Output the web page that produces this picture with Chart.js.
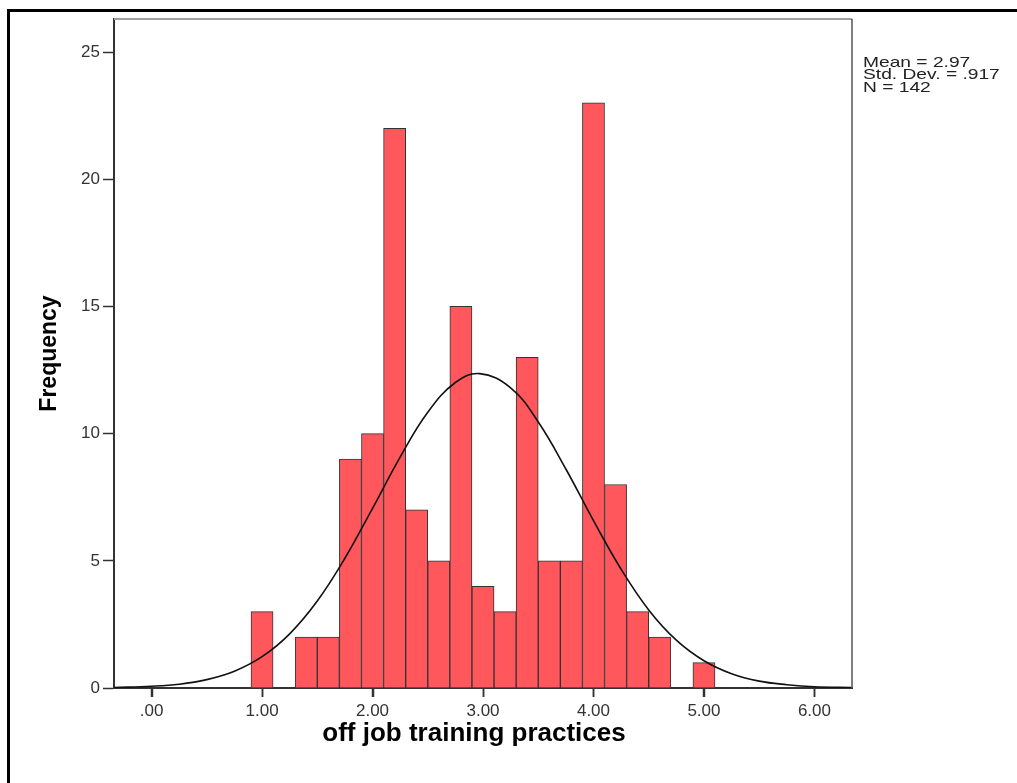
<!DOCTYPE html>
<html>
<head>
<meta charset="utf-8">
<script src="https://cdn.jsdelivr.net/npm/chart.js@4.4.0/dist/chart.umd.min.js"></script>
<style>
  body { margin: 0; background: #fff; }
  #wrap { position: relative; width: 1017px; height: 783px; }
  #frame { position: absolute; left: 7px; top: 9px; right: 0; bottom: 0;
           border-left: 3px solid #000; border-top: 3px solid #000; pointer-events: none; }
  canvas { position: absolute; left: 0; top: 0; }
</style>
</head>
<body>
<div id="wrap">
  <canvas id="hist" width="1017" height="783"></canvas>
  <div id="frame"></div>
</div>
<script>
// histogram bins (centres) and counts
const binCenters = [1.0, 1.2, 1.4, 1.6, 1.8, 2.0, 2.2, 2.4, 2.6, 2.8, 3.0, 3.2, 3.4, 3.6, 3.8, 4.0, 4.2, 4.4, 4.6, 4.8, 5.0];
const counts     = [3,   0,   2,   2,   9,   10,  22,  7,   5,   15,  4,   3,   13,  5,   5,   23,  8,   3,   2,   0,   1];

// normal curve
const curveX = [-0.34, 0.0, 0.25, 0.5, 0.75, 1.0, 1.25, 1.5, 1.75, 2.0, 2.25, 2.5, 2.75, 2.97, 3.25, 3.5, 3.75, 4.0, 4.25, 4.5, 4.75, 5.0, 5.25, 5.5, 5.75, 6.0, 6.34];
const curveY = [0.02, 0.07, 0.15, 0.33, 0.66, 1.23, 2.13, 3.42, 5.1, 7.06, 9.08, 10.84, 12.01, 12.36, 11.8, 10.46, 8.61, 6.58, 4.67, 3.07, 1.88, 1.07, 0.56, 0.27, 0.13, 0.05, 0.02];

const xTicks = [0, 1, 2, 3, 4, 5, 6];
const yTicks = [0, 5, 10, 15, 20, 25];
const statsLines = ['Mean = 2.97', 'Std. Dev. = .917', 'N = 142'];
const xTitle = 'off job training practices';

const FONT = '"Liberation Sans", Arial, sans-serif';

const extras = {
  id: 'extras',
  afterDraw(chart) {
    const { ctx, chartArea: a } = chart;
    const xs = chart.scales.x;
    ctx.save();
    // top and right edges of the plot frame
    ctx.lineWidth = 2;
    ctx.strokeStyle = '#a0a0a0';
    ctx.beginPath();
    ctx.moveTo(a.left, a.top);
    ctx.lineTo(a.right, a.top);
    ctx.stroke();
    ctx.strokeStyle = '#555';
    ctx.lineWidth = 1.5;
    ctx.beginPath();
    ctx.moveTo(a.right, a.top);
    ctx.lineTo(a.right, a.bottom);
    ctx.stroke();
    // x tick marks
    ctx.strokeStyle = '#333';
    ctx.lineWidth = 1.5;
    xTicks.forEach(v => {
      const px = Math.round(xs.getPixelForValue(v)) + 0.5;
      ctx.beginPath();
      ctx.moveTo(px, a.bottom);
      ctx.lineTo(px, a.bottom + 9);
      ctx.stroke();
    });
    // x axis title, sits a little left of the plot centre in the original
    ctx.fillStyle = '#000';
    ctx.font = 'bold 26px ' + FONT;
    ctx.textAlign = 'center';
    ctx.textBaseline = 'middle';
    ctx.fillText(xTitle, 474, 734);
    // stats box text (a bit wide, like the original)
    ctx.fillStyle = '#222';
    ctx.font = '15px ' + FONT;
    ctx.textAlign = 'left';
    ctx.textBaseline = 'alphabetic';
    ctx.translate(a.right + 11, 0);
    ctx.scale(1.28, 1);
    statsLines.forEach((t, i) => ctx.fillText(t, 0, 66.5 + i * 12.8));
    ctx.restore();
  }
};

new Chart(document.getElementById('hist'), {
  type: 'bar',
  data: {
    datasets: [
      {
        type: 'line',
        data: curveX.map((x, i) => ({ x: x, y: curveY[i] })),
        borderColor: '#111',
        borderWidth: 1.6,
        pointRadius: 0,
        tension: 0.4,
        fill: false,
        order: 0
      },
      {
        type: 'bar',
        data: binCenters.map((x, i) => ({ x: x, y: counts[i] })),
        backgroundColor: '#ff575c',
        borderColor: '#333',
        borderWidth: 1,
        barPercentage: 1,
        categoryPercentage: 1,
        order: 1
      }
    ]
  },
  options: {
    responsive: false,
    animation: false,
    layout: { padding: { left: 0, right: 165, top: 19, bottom: 0 } },
    plugins: { legend: { display: false }, tooltip: { enabled: false } },
    scales: {
      x: {
        type: 'linear',
        min: -0.34,
        max: 6.34,
        offset: false,
        afterFit(s) { s.height = 95; },
        afterBuildTicks(s) { s.ticks = xTicks.map(v => ({ value: v })); },
        grid: { offset: false, drawOnChartArea: false, drawTicks: true, tickLength: 9, tickColor: '#333', tickWidth: 1.5 },
        border: { display: true, color: '#333', width: 2 },
        ticks: {
          color: '#333',
          font: { family: FONT, size: 17 },
          padding: 4,
          maxRotation: 0,
          callback: v => v === 0 ? '.00' : v.toFixed(2)
        }
      },
      y: {
        min: 0,
        max: 26.3,
        afterFit(s) { s.width = 114; },
        afterBuildTicks(s) { s.ticks = yTicks.map(v => ({ value: v })); },
        grid: { drawOnChartArea: false, drawTicks: true, tickLength: 11, tickColor: '#333', tickWidth: 1.5 },
        border: { display: true, color: '#333', width: 2 },
        ticks: {
          color: '#333',
          font: { family: FONT, size: 17 },
          padding: 3
        },
        title: {
          display: true,
          text: 'Frequency',
          color: '#000',
          font: { family: FONT, size: 23, weight: 'bold' },
          padding: { top: 36, bottom: 0 }
        }
      }
    }
  },
  plugins: [extras]
});
</script>
</body>
</html>
